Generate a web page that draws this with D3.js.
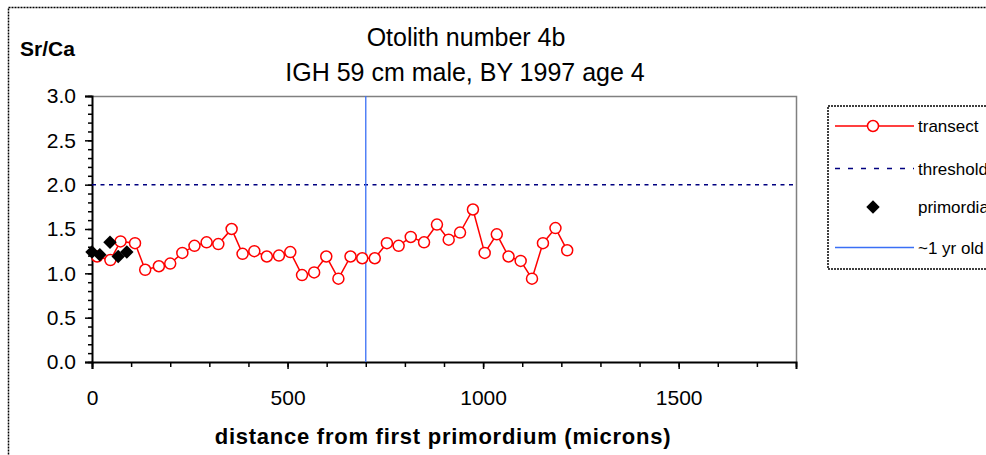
<!DOCTYPE html>
<html>
<head>
<meta charset="utf-8">
<script src="https://cdn.jsdelivr.net/npm/d3@7"></script>
<style>
  body { margin: 0; background: #fff; }
  svg { display: block; font-family: "Liberation Sans", Arial, sans-serif; }
</style>
</head>
<body>
<svg id="chart" width="986" height="455"></svg>
<script>
// values
var transectX = [13, 47, 73, 110, 136, 171, 200, 231, 262, 293, 323, 357, 385, 415, 447, 478, 507, 537, 568, 599,
                 630, 661, 691, 723, 754, 784, 815, 849, 882, 912, 941, 974, 1004, 1035, 1065, 1096, 1125, 1153, 1185, 1215];
var transectY = [1.19, 1.15, 1.36, 1.34, 1.04, 1.08, 1.11, 1.23, 1.31, 1.35, 1.33, 1.50, 1.22, 1.25, 1.19, 1.20, 1.24, 0.98, 1.01, 1.19,
                 0.94, 1.19, 1.17, 1.17, 1.34, 1.31, 1.41, 1.35, 1.55, 1.38, 1.46, 1.72, 1.23, 1.44, 1.19, 1.14, 0.94, 1.34, 1.51, 1.26];
var primordiaX = [0, 20, 46, 67, 89];
var primordiaY = [1.24, 1.21, 1.35, 1.19, 1.24];
var thresholdValue = 2.0;
var yearOldX = 700;
var xTicks = [0, 500, 1000, 1500];
var yTicks = [0, 0.5, 1.0, 1.5, 2.0, 2.5, 3.0];
var legendNames = ["transect", "threshold", "primordia", "~1 yr old"];

var svg = d3.select("#chart");

// plot box (don't use "top", it's window.top)
var pLeft = 92, pTop = 96, pRight = 796, pBottom = 362;

var x = d3.scaleLinear().domain([0, 1800]).range([pLeft, pRight]);
var y = d3.scaleLinear().domain([0, 3]).range([pBottom, pTop]);

// outer frame
svg.append("rect")
    .attr("x", 8.5).attr("y", 7.5)
    .attr("width", 1000).attr("height", 500)
    .attr("fill", "none").attr("stroke", "#000").attr("stroke-width", 1.5)
    .attr("stroke-dasharray", "2,1");

// plot area border (grey top + right)
svg.append("path")
    .attr("d", "M" + pLeft + "," + (pTop + 0.5) + "H" + (pRight + 0.5) + "V" + pBottom)
    .attr("fill", "none").attr("stroke", "#808080").attr("stroke-width", 1.5);

// minor ticks
svg.append("g")
    .attr("transform", "translate(" + pLeft + ",0)")
    .call(d3.axisLeft(y).tickValues(d3.range(0, 31).map(function(d) { return d / 10; })).tickSize(4).tickFormat(""))
    .call(function(g) { g.select(".domain").remove(); });
svg.append("g")
    .attr("transform", "translate(0," + pBottom + ")")
    .call(d3.axisBottom(x).tickValues(d3.range(0, 19).map(function(d) { return d * 100; })).tickSize(5).tickFormat(""))
    .call(function(g) { g.select(".domain").remove(); });

// main axes
var yAxis = svg.append("g")
    .attr("transform", "translate(" + pLeft + ",0)")
    .call(d3.axisLeft(y).tickValues(yTicks).tickSize(7).tickPadding(9).tickFormat(d3.format(".1f")));
var xAxis = svg.append("g")
    .attr("transform", "translate(0," + pBottom + ")")
    .call(d3.axisBottom(x).tickValues(xTicks).tickSize(7).tickPadding(21).tickFormat(d3.format("d")));

svg.selectAll(".tick line").attr("stroke", "#000").attr("stroke-width", 1.5);
svg.selectAll(".domain").attr("stroke", "#000").attr("stroke-width", 2);
svg.selectAll(".tick text").attr("font-family", "Liberation Sans, Arial, sans-serif")
    .attr("font-size", 21).attr("fill", "#000");

// threshold
svg.append("line")
    .attr("x1", pLeft).attr("x2", pRight)
    .attr("y1", y(thresholdValue)).attr("y2", y(thresholdValue))
    .attr("stroke", "#000080").attr("stroke-width", 1.5).attr("stroke-dasharray", "4,4.5");

// ~1 yr old line
svg.append("line")
    .attr("x1", x(yearOldX)).attr("x2", x(yearOldX))
    .attr("y1", pTop).attr("y2", pBottom)
    .attr("stroke", "#3a6ff5").attr("stroke-width", 1.3);

// transect
var transect = transectX.map(function(d, i) { return [d, transectY[i]]; });
var line = d3.line().x(function(d) { return x(d[0]); }).y(function(d) { return y(d[1]); });

svg.append("path")
    .datum(transect)
    .attr("d", line)
    .attr("fill", "none").attr("stroke", "#ff0000").attr("stroke-width", 1.5);

svg.selectAll(".dot")
    .data(transect)
    .enter().append("circle")
    .attr("class", "dot")
    .attr("cx", function(d) { return x(d[0]); })
    .attr("cy", function(d) { return y(d[1]); })
    .attr("r", 5.5)
    .attr("fill", "#fff").attr("stroke", "#ff0000").attr("stroke-width", 1.5);

// primordia
var diamond = d3.symbol().type(d3.symbolDiamond2).size(115);
svg.selectAll(".prim")
    .data(primordiaX)
    .enter().append("path")
    .attr("class", "prim")
    .attr("transform", function(d, i) { return "translate(" + x(d) + "," + y(primordiaY[i]) + ")"; })
    .attr("d", diamond)
    .attr("fill", "#000");

// titles
svg.append("text")
    .attr("x", 466).attr("y", 46)
    .attr("text-anchor", "middle").attr("font-size", 25)
    .text("Otolith number 4b");
svg.append("text")
    .attr("x", 465).attr("y", 81)
    .attr("text-anchor", "middle").attr("font-size", 25)
    .text("IGH 59 cm male, BY 1997 age 4");

svg.append("text")
    .attr("x", 20).attr("y", 56)
    .attr("font-size", 21).attr("font-weight", "bold")
    .text("Sr/Ca");

svg.append("text")
    .attr("x", 443).attr("y", 444)
    .attr("text-anchor", "middle").attr("font-size", 22).attr("font-weight", "bold")
    .attr("letter-spacing", 0.75)
    .text("distance from first primordium (microns)");

// legend
var legend = svg.append("g");
legend.append("rect")
    .attr("x", 828).attr("y", 106)
    .attr("width", 200).attr("height", 163)
    .attr("fill", "#fff").attr("stroke", "#000").attr("stroke-width", 1.5)
    .attr("stroke-dasharray", "2,1");

var rowY = [126, 168.5, 207, 247.5];
var lx1 = 835, lx2 = 914, lmid = 873;

legend.append("line").attr("x1", lx1).attr("x2", lx2).attr("y1", rowY[0]).attr("y2", rowY[0])
    .attr("stroke", "#ff0000").attr("stroke-width", 1.5);
legend.append("circle").attr("cx", lmid).attr("cy", rowY[0]).attr("r", 5.5)
    .attr("fill", "#fff").attr("stroke", "#ff0000").attr("stroke-width", 1.5);

legend.append("line").attr("x1", lx1).attr("x2", lx2).attr("y1", rowY[1]).attr("y2", rowY[1])
    .attr("stroke", "#000080").attr("stroke-width", 1.5).attr("stroke-dasharray", "5,8");

legend.append("path").attr("transform", "translate(" + lmid + "," + rowY[2] + ")")
    .attr("d", diamond).attr("fill", "#000");

legend.append("line").attr("x1", lx1).attr("x2", lx2).attr("y1", rowY[3]).attr("y2", rowY[3])
    .attr("stroke", "#3a6ff5").attr("stroke-width", 1.3);

legend.selectAll(".ltext")
    .data(legendNames)
    .enter().append("text")
    .attr("class", "ltext")
    .attr("x", 918)
    .attr("y", function(d, i) { return rowY[i] + 6; })
    .attr("font-size", 17)
    .text(function(d) { return d; });
</script>
</body>
</html>
